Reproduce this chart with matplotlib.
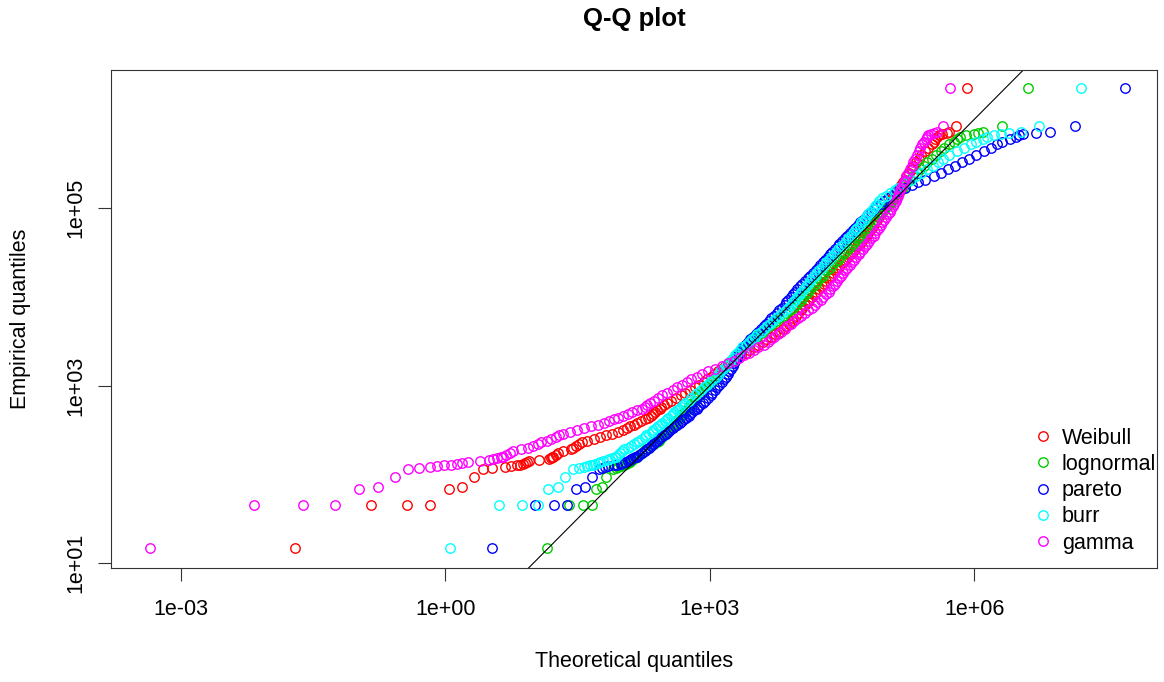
import numpy as np
import matplotlib
matplotlib.use("Agg")
import matplotlib.pyplot as plt
from matplotlib.lines import Line2D

plt.rcParams['font.family'] = ['Liberation Sans', 'DejaVu Sans']

# Empirical quantiles (sorted data), log10 of value
emp_log10 = [
    1.17, 1.65, 1.65, 1.65, 1.83, 1.86, 1.97, 2.06, 2.07,
    2.08, 2.09, 2.10, 2.11, 2.12, 2.13, 2.14, 2.15, 2.16, 2.17, 2.18, 2.19, 2.20,
    2.22, 2.24, 2.26, 2.28, 2.30, 2.32, 2.34, 2.36, 2.38, 2.40, 2.42, 2.44, 2.46, 2.48, 2.50,
    2.52, 2.54, 2.56, 2.58, 2.60, 2.62, 2.64, 2.66, 2.68, 2.70, 2.72, 2.74, 2.76, 2.78, 2.80,
    2.83, 2.86, 2.89, 2.92, 2.95, 2.98, 3.01, 3.04, 3.07, 3.10,
    3.13, 3.16, 3.19, 3.22, 3.25, 3.28, 3.31, 3.34, 3.37, 3.40,
    3.43, 3.46, 3.49, 3.52, 3.55, 3.58, 3.61, 3.64, 3.67, 3.70,
    3.73, 3.76, 3.79, 3.82, 3.85, 3.88, 3.91, 3.94, 3.97, 4.00,
    4.03, 4.06, 4.09, 4.12, 4.15, 4.18, 4.21, 4.24, 4.27, 4.30,
    4.33, 4.36, 4.39, 4.42, 4.45, 4.48, 4.51, 4.54, 4.57, 4.60,
    4.63, 4.66, 4.69, 4.72, 4.75, 4.78, 4.81, 4.84, 4.87, 4.90,
    4.93, 4.96, 4.99, 5.02, 5.05, 5.08, 5.11, 5.14, 5.17, 5.20,
    5.23, 5.26, 5.29, 5.32,
    5.36, 5.40, 5.44, 5.48, 5.52, 5.56, 5.60, 5.64, 5.68, 5.72,
    5.75, 5.78, 5.80, 5.82, 5.84, 5.85, 5.86, 5.93, 6.35,
]

# Theoretical quantiles per fitted distribution, log10 of value
weibull_log10 = [
    -1.71, -0.84, -0.43, -0.17, 0.04, 0.19, 0.33, 0.43, 0.53,
    0.68, 0.75, 0.81, 0.85, 0.88, 0.90, 0.93, 0.95, 1.06, 1.18, 1.20, 1.21, 1.22,
    1.25, 1.28, 1.33, 1.42, 1.45, 1.48, 1.52, 1.55, 1.61, 1.69, 1.76, 1.82, 1.89, 1.96, 2.02,
    2.06, 2.10, 2.14, 2.18, 2.22, 2.26, 2.30, 2.33, 2.36, 2.38, 2.40, 2.43, 2.45, 2.48, 2.51,
    2.56, 2.62, 2.67, 2.72, 2.78, 2.83, 2.88, 2.93, 2.97, 3.01,
    3.05, 3.09, 3.13, 3.17, 3.22, 3.27, 3.31, 3.36, 3.41, 3.45,
    3.50, 3.55, 3.60, 3.64, 3.69, 3.74, 3.79, 3.83, 3.87, 3.90,
    3.93, 3.95, 3.98, 4.00, 4.03, 4.05, 4.08, 4.11, 4.13, 4.16,
    4.19, 4.21, 4.24, 4.27, 4.30, 4.32, 4.35, 4.38, 4.40, 4.43,
    4.46, 4.48, 4.51, 4.54, 4.57, 4.59, 4.62, 4.65, 4.67, 4.70,
    4.73, 4.75, 4.78, 4.80, 4.82, 4.84, 4.86, 4.88, 4.90, 4.92,
    4.94, 4.96, 4.98, 5.00, 5.03, 5.05, 5.07, 5.09, 5.11, 5.13,
    5.15, 5.17, 5.19, 5.21,
    5.23, 5.26, 5.29, 5.31, 5.34, 5.37, 5.40, 5.44, 5.48, 5.52,
    5.54, 5.56, 5.58, 5.60, 5.64, 5.69, 5.72, 5.79, 5.92,
]

lognormal_log10 = [
    1.15, 1.40, 1.56, 1.66, 1.71, 1.78, 1.82, 1.90, 1.94,
    1.96, 1.99, 2.01, 2.03, 2.05, 2.07, 2.09, 2.10, 2.12, 2.13, 2.15, 2.16, 2.17,
    2.20, 2.23, 2.25, 2.28, 2.31, 2.33, 2.37, 2.40, 2.42, 2.44, 2.46, 2.48, 2.49, 2.51, 2.53,
    2.55, 2.57, 2.58, 2.60, 2.62, 2.64, 2.66, 2.67, 2.69, 2.71, 2.73, 2.75, 2.76, 2.78, 2.80,
    2.83, 2.85, 2.88, 2.91, 2.94, 2.96, 2.99, 3.02, 3.05, 3.08,
    3.10, 3.13, 3.16, 3.19, 3.22, 3.25, 3.27, 3.30, 3.33, 3.36,
    3.39, 3.43, 3.46, 3.50, 3.53, 3.56, 3.60, 3.63, 3.67, 3.71,
    3.75, 3.79, 3.83, 3.87, 3.91, 3.95, 3.98, 4.01, 4.03, 4.06,
    4.09, 4.11, 4.14, 4.17, 4.20, 4.22, 4.25, 4.28, 4.30, 4.33,
    4.36, 4.39, 4.42, 4.45, 4.48, 4.51, 4.54, 4.57, 4.60, 4.62,
    4.65, 4.68, 4.71, 4.74, 4.77, 4.79, 4.82, 4.85, 4.88, 4.90,
    4.93, 4.96, 4.99, 5.01, 5.04, 5.07, 5.10, 5.12, 5.14, 5.17,
    5.19, 5.22, 5.24, 5.27,
    5.31, 5.35, 5.39, 5.43, 5.47, 5.52, 5.57, 5.62, 5.66, 5.72,
    5.77, 5.81, 5.84, 5.91, 6.00, 6.04, 6.10, 6.32, 6.61,
]

pareto_log10 = [
    0.53, 1.02, 1.23, 1.38, 1.48, 1.58, 1.66, 1.74, 1.78,
    1.81, 1.85, 1.91, 1.95, 1.99, 2.01, 2.04, 2.07, 2.09, 2.11, 2.13, 2.15, 2.17,
    2.20, 2.23, 2.26, 2.29, 2.31, 2.33, 2.36, 2.38, 2.40, 2.42, 2.45, 2.48, 2.50, 2.53, 2.55,
    2.58, 2.61, 2.63, 2.66, 2.68, 2.71, 2.73, 2.76, 2.78, 2.80, 2.82, 2.85, 2.87, 2.89, 2.92,
    2.95, 2.98, 3.01, 3.03, 3.06, 3.08, 3.11, 3.14, 3.16, 3.19,
    3.21, 3.22, 3.24, 3.26, 3.27, 3.29, 3.31, 3.32, 3.34, 3.36,
    3.38, 3.40, 3.43, 3.46, 3.49, 3.52, 3.55, 3.58, 3.61, 3.64,
    3.67, 3.70, 3.73, 3.76, 3.79, 3.82, 3.85, 3.87, 3.89, 3.92,
    3.94, 3.97, 3.99, 4.02, 4.05, 4.08, 4.11, 4.14, 4.17, 4.20,
    4.23, 4.25, 4.28, 4.31, 4.34, 4.36, 4.39, 4.42, 4.45, 4.47,
    4.50, 4.53, 4.56, 4.59, 4.62, 4.65, 4.68, 4.71, 4.74, 4.77,
    4.80, 4.83, 4.86, 4.89, 4.94, 4.98, 5.02, 5.06, 5.10, 5.14,
    5.21, 5.29, 5.36, 5.44,
    5.54, 5.62, 5.70, 5.78, 5.86, 5.94, 6.02, 6.11, 6.19, 6.26,
    6.32, 6.41, 6.47, 6.51, 6.56, 6.70, 6.86, 7.14, 7.71,
]

burr_log10 = [
    0.05, 0.61, 0.87, 1.05, 1.17, 1.28, 1.36, 1.45, 1.52,
    1.57, 1.61, 1.64, 1.67, 1.70, 1.73, 1.76, 1.79, 1.83, 1.86, 1.89, 1.92, 1.94,
    1.96, 1.98, 2.01, 2.03, 2.07, 2.11, 2.14, 2.17, 2.20, 2.23, 2.26, 2.28, 2.31, 2.34, 2.36,
    2.39, 2.41, 2.44, 2.46, 2.49, 2.51, 2.53, 2.56, 2.58, 2.60, 2.63, 2.65, 2.67, 2.70, 2.72,
    2.76, 2.79, 2.83, 2.86, 2.90, 2.93, 2.97, 3.00, 3.04, 3.07,
    3.10, 3.12, 3.15, 3.18, 3.21, 3.23, 3.26, 3.29, 3.31, 3.34,
    3.37, 3.41, 3.44, 3.48, 3.51, 3.54, 3.58, 3.61, 3.65, 3.68,
    3.72, 3.75, 3.79, 3.82, 3.86, 3.89, 3.92, 3.94, 3.97, 3.99,
    4.02, 4.04, 4.07, 4.09, 4.12, 4.14, 4.16, 4.19, 4.21, 4.24,
    4.27, 4.30, 4.32, 4.35, 4.38, 4.41, 4.43, 4.46, 4.49, 4.52,
    4.55, 4.57, 4.60, 4.62, 4.65, 4.67, 4.70, 4.72, 4.75, 4.77,
    4.80, 4.82, 4.85, 4.87, 4.90, 4.92, 4.96, 5.00, 5.05, 5.10,
    5.14, 5.19, 5.23, 5.28,
    5.34, 5.40, 5.46, 5.53, 5.59, 5.65, 5.72, 5.80, 5.88, 5.96,
    6.02, 6.10, 6.15, 6.22, 6.30, 6.40, 6.53, 6.74, 7.21,
]

gamma_log10 = [
    -3.35, -2.17, -1.62, -1.25, -0.98, -0.76, -0.57, -0.42, -0.30,
    -0.17, -0.09, -0.01, 0.06, 0.13, 0.19, 0.26, 0.39, 0.49, 0.54, 0.59, 0.63, 0.65,
    0.69, 0.73, 0.77, 0.86, 0.94, 1.00, 1.05, 1.09, 1.15, 1.20, 1.25, 1.29, 1.33, 1.41, 1.49,
    1.57, 1.65, 1.73, 1.80, 1.86, 1.91, 1.96, 2.02, 2.07, 2.12, 2.18, 2.23, 2.26, 2.29, 2.32,
    2.37, 2.41, 2.46, 2.52, 2.58, 2.63, 2.68, 2.74, 2.79, 2.85,
    2.91, 2.98, 3.06, 3.14, 3.21, 3.28, 3.33, 3.39, 3.44, 3.50,
    3.55, 3.61, 3.66, 3.69, 3.73, 3.77, 3.81, 3.85, 3.88, 3.92,
    3.96, 4.00, 4.04, 4.08, 4.12, 4.16, 4.19, 4.22, 4.26, 4.29,
    4.32, 4.35, 4.37, 4.40, 4.42, 4.44, 4.47, 4.49, 4.51, 4.54,
    4.56, 4.59, 4.61, 4.64, 4.66, 4.69, 4.71, 4.74, 4.76, 4.79,
    4.81, 4.83, 4.86, 4.88, 4.90, 4.92, 4.94, 4.96, 4.98, 5.00,
    5.02, 5.04, 5.06, 5.08, 5.09, 5.11, 5.12, 5.14, 5.15, 5.16,
    5.17, 5.19, 5.20, 5.21,
    5.23, 5.25, 5.27, 5.29, 5.31, 5.33, 5.35, 5.37, 5.39, 5.41,
    5.43, 5.45, 5.46, 5.48, 5.51, 5.54, 5.58, 5.65, 5.73,
]

dist_names = ["Weibull", "lognormal", "pareto", "burr", "gamma"]
dist_colors = ["#FF0000", "#00CD00", "#0000FF", "#00FFFF", "#FF00FF"]
dist_values = [weibull_log10, lognormal_log10, pareto_log10, burr_log10, gamma_log10]

x_ticks = [1e-3, 1e0, 1e3, 1e6]
x_tick_labels = ["1e-03", "1e+00", "1e+03", "1e+06"]
y_ticks = [1e1, 1e3, 1e5]
y_tick_labels = ["1e+01", "1e+03", "1e+05"]

W, H = 1164, 682
fig = plt.figure(figsize=(W / 100, H / 100), dpi=100)
L, R, T, B = 111, 1157, 70, 568
ax = fig.add_axes([L / W, 1 - B / H, (R - L) / W, (B - T) / H])
ax.set_xscale("log")
ax.set_yscale("log")

emp = 10 ** np.array(emp_log10)
for name, col, vals in zip(dist_names, dist_colors, dist_values):
    assert len(vals) == len(emp_log10), name
    ax.plot(10 ** np.array(vals), emp, ls="none", marker="o", ms=6.8,
            mfc="none", mec=col, mew=1.0)

ax.axline((1, 1), (10, 10), color="black", lw=0.8)

ax.set_xlim(10 ** -3.794, 10 ** 8.075)
ax.set_ylim(10 ** 0.944, 10 ** 6.558)
ax.set_xticks(x_ticks)
ax.set_xticklabels(x_tick_labels)
ax.set_yticks(y_ticks)
ax.set_yticklabels(y_tick_labels, rotation=90, va="center")
ax.minorticks_off()
ax.tick_params(axis="both", length=9.5, width=0.8, labelsize=15.5, colors="#333333",
               labelcolor="black")
ax.tick_params(axis="x", pad=12.5)
ax.tick_params(axis="y", pad=8)
for s in ax.spines.values():
    s.set_linewidth(0.8)
    s.set_color("#333333")

ax.set_xlabel("Theoretical quantiles", fontsize=15.5, va="center")
ax.xaxis.set_label_coords(0.5, -(661 - B) / (B - T))
ax.set_ylabel("Empirical quantiles", fontsize=15.5, va="center")
ax.yaxis.set_label_coords((21 - L) / (R - L), 0.5)
ax.set_title("Q-Q plot", fontsize=18.5, fontweight="bold", y=(B - 26) / (B - T),
             va="baseline", pad=0)

handles = [Line2D([], [], ls="none", marker="o", ms=6.8, mfc="none", mec=c, mew=1.0)
           for c in dist_colors]
ax.legend(handles, dist_names, loc="upper left", bbox_to_anchor=(1034 / W, 1 - 427.5 / H),
          bbox_transform=fig.transFigure, frameon=False, borderpad=0, borderaxespad=0,
          handlelength=0.8, handletextpad=0.5, labelspacing=0.245, fontsize=15.5)

fig.savefig("out.png", dpi=100)
